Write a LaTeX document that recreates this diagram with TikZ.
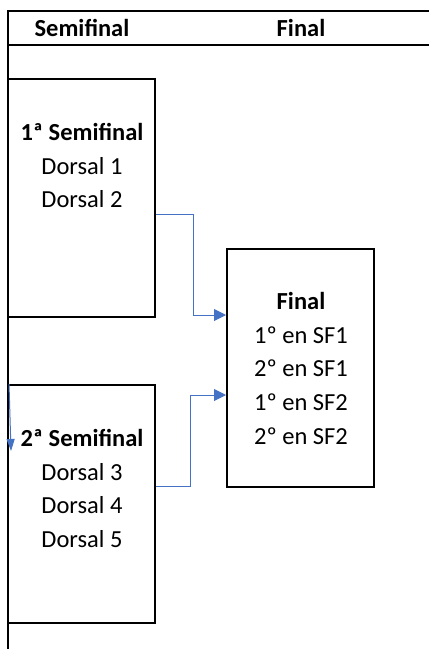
\documentclass[tikz,border=0pt]{standalone}
\usepackage{fontspec}
\setmainfont{Carlito}
\usetikzlibrary{arrows.meta}
\definecolor{conn}{HTML}{4472C4}
\begin{document}
\begin{tikzpicture}[x=1pt,y=-1pt,
  box/.style={draw=black,line width=2pt,fill=white,minimum width=147pt,minimum height=238pt,inner sep=0pt},
  txt/.style={anchor=base,inner sep=0pt,font=\fontsize{24.5}{30}\selectfont},
  btxt/.style={txt,font=\fontsize{24.5}{30}\selectfont\bfseries},
  frame/.style={draw=black,line width=1.8pt},
  link/.style={draw=conn,line width=1pt,-{Triangle[length=12pt,width=12pt]}}]
\useasboundingbox (0,0) rectangle (429,649);
% frame
\draw[frame] (8,649) -- (8,11) -- (429,11);
\draw[frame] (8,45) -- (429,45);
\node[btxt] (hsemi) at (82,36) {Semifinal};
\node[btxt] (hfinal) at (301,36) {Final};
% boxes
\node[box] (sf1) at (81.5,198) {};
\node[box] (sf2) at (81.5,504) {};
\node[box] (fin) at (300.5,368) {};
% texts
\node[btxt] (t11) at (82,140) {1ª Semifinal};
\node[txt] (t12) at (82,174) {Dorsal 1};
\node[txt] (t13) at (82,207) {Dorsal 2};
\node[btxt] (t21) at (82,446) {2ª Semifinal};
\node[txt] (t22) at (82,480) {Dorsal 3};
\node[txt] (t23) at (82,513) {Dorsal 4};
\node[txt] (t24) at (82,547) {Dorsal 5};
\node[btxt] (f1) at (301,309) {Final};
\node[txt] (f2) at (301,343) {1º en SF1};
\node[txt] (f3) at (301,376) {2º en SF1};
\node[txt] (f4) at (301,410) {1º en SF2};
\node[txt] (f5) at (301,444) {2º en SF2};
% connectors
\draw[link] ([yshift=-16pt]sf1.east) -- ++(37,0) |- ([yshift=53pt]fin.west);
\draw[link] ([yshift=18pt]sf2.east) -- ++(34,0) |- ([yshift=-27pt]fin.west);
\coordinate (la) at (9,384);
\coordinate (lb) at (11,451);
\draw[draw=conn,line width=1pt,-{Triangle[length=12pt,width=8pt]}] (la) -- (lb);
\end{tikzpicture}
\end{document}
